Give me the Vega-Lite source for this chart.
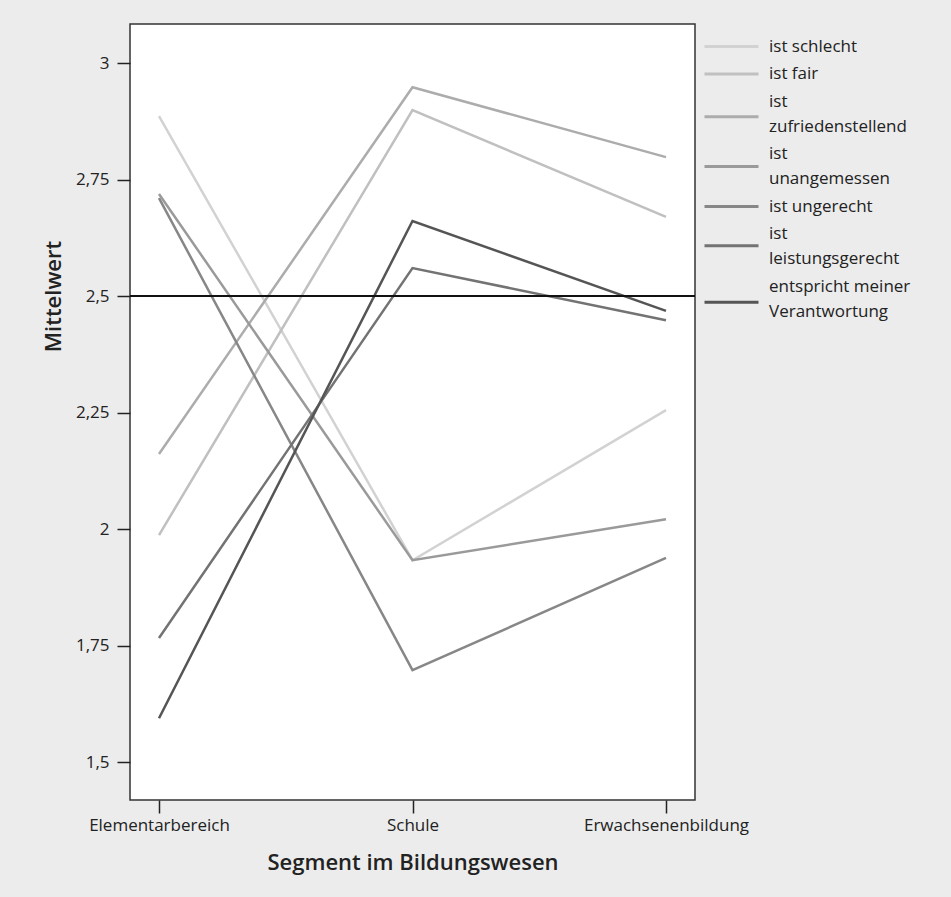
{
  "$schema": "https://vega.github.io/schema/vega-lite/v6.json",
  "width": 565,
  "height": 776,
  "autosize": {"type": "none"},
  "padding": {"left": 130, "top": 24, "right": 256, "bottom": 97},
  "background": "#ececec",
  "config": {
    "font": "Open Sans",
    "view": {"fill": "white", "stroke": "#333333", "strokeWidth": 1.5},
    "style": {"guide-label": {"lineHeight": 25}},
    "axis": {
      "labelFont": "Open Sans",
      "labelFontSize": 17,
      "labelColor": "#222222",
      "titleFont": "Open Sans",
      "titleFontSize": 22,
      "titleFontWeight": 600,
      "titleColor": "#222222",
      "tickColor": "#222222",
      "tickWidth": 1.5,
      "tickSize": 13,
      "domainColor": "#333333",
      "domainWidth": 1.5,
      "grid": false
    },
    "legend": {
      "labelFont": "Open Sans",
      "labelFontSize": 17,
      "labelColor": "#222222",
      "title": null,
      "orient": "right",
      "offset": 14,
      "padding": 12,
      "symbolSize": 324,
      "symbolStrokeWidth": 3,
      "symbolOpacity": 1,
      "symbolFillColor": "transparent",
      "labelOffset": 27,
      "labelLimit": 200,
      "rowPadding": 8.5
    }
  },
  "data": {
    "values": [
      {"series": "ist schlecht", "segment": "Elementarbereich", "value": 2.886},
      {"series": "ist schlecht", "segment": "Schule", "value": 1.933},
      {"series": "ist schlecht", "segment": "Erwachsenenbildung", "value": 2.255},
      {"series": "ist fair", "segment": "Elementarbereich", "value": 1.987},
      {"series": "ist fair", "segment": "Schule", "value": 2.899},
      {"series": "ist fair", "segment": "Erwachsenenbildung", "value": 2.670},
      {"series": "ist zufriedenstellend", "segment": "Elementarbereich", "value": 2.161},
      {"series": "ist zufriedenstellend", "segment": "Schule", "value": 2.948},
      {"series": "ist zufriedenstellend", "segment": "Erwachsenenbildung", "value": 2.798},
      {"series": "ist unangemessen", "segment": "Elementarbereich", "value": 2.719},
      {"series": "ist unangemessen", "segment": "Schule", "value": 1.933},
      {"series": "ist unangemessen", "segment": "Erwachsenenbildung", "value": 2.021},
      {"series": "ist ungerecht", "segment": "Elementarbereich", "value": 2.710},
      {"series": "ist ungerecht", "segment": "Schule", "value": 1.697},
      {"series": "ist ungerecht", "segment": "Erwachsenenbildung", "value": 1.938},
      {"series": "ist leistungsgerecht", "segment": "Elementarbereich", "value": 1.766},
      {"series": "ist leistungsgerecht", "segment": "Schule", "value": 2.560},
      {"series": "ist leistungsgerecht", "segment": "Erwachsenenbildung", "value": 2.448},
      {"series": "entspricht meiner Verantwortung", "segment": "Elementarbereich", "value": 1.594},
      {"series": "entspricht meiner Verantwortung", "segment": "Schule", "value": 2.661},
      {"series": "entspricht meiner Verantwortung", "segment": "Erwachsenenbildung", "value": 2.468}
    ]
  },
  "encoding": {
    "x": {
      "field": "segment",
      "type": "ordinal",
      "sort": ["Elementarbereich", "Schule", "Erwachsenenbildung"],
      "scale": {"type": "point", "padding": 0.1144},
      "axis": {
        "title": "Segment im Bildungswesen",
        "labelAngle": 0,
        "labelPadding": 4,
        "titleY": 62,
        "titleBaseline": "middle",
        "domain": false
      }
    },
    "y": {
      "field": "value",
      "type": "quantitative",
      "scale": {"domain": [1.4185, 3.0837], "nice": false, "zero": false},
      "axis": {
        "title": "Mittelwert",
        "values": [1.5, 1.75, 2, 2.25, 2.5, 2.75, 3],
        "labelExpr": "replace(format(datum.value, ''), '.', ',')",
        "labelPadding": 8,
        "titleX": -77,
        "titleY": 272,
        "titleBaseline": "middle",
        "titleAlign": "center",
        "domain": false
      }
    }
  },
  "layer": [
    {
      "mark": {"type": "line", "strokeWidth": 2.5},
      "encoding": {
        "color": {
          "field": "series",
          "type": "nominal",
          "scale": {
            "domain": ["ist schlecht", "ist fair", "ist zufriedenstellend", "ist unangemessen", "ist ungerecht", "ist leistungsgerecht", "entspricht meiner Verantwortung"],
            "range": ["#d2d2d2", "#c0c0c0", "#acacac", "#9a9a9a", "#878787", "#737373", "#555555"]
          },
          "legend": {
            "labelExpr": "datum.label == 'ist zufriedenstellend' ? ['ist', 'zufriedenstellend'] : datum.label == 'ist unangemessen' ? ['ist', 'unangemessen'] : datum.label == 'ist leistungsgerecht' ? ['ist', 'leistungsgerecht'] : datum.label == 'entspricht meiner Verantwortung' ? ['entspricht meiner', 'Verantwortung'] : datum.label"
          }
        }
      }
    },
    {
      "mark": {"type": "point", "filled": false, "opacity": 0, "size": 324, "strokeWidth": 3},
      "encoding": {
        "color": {
          "field": "series",
          "type": "nominal"
        },
        "shape": {
          "field": "series",
          "type": "nominal",
          "scale": {
            "domain": ["ist schlecht", "ist fair", "ist zufriedenstellend", "ist unangemessen", "ist ungerecht", "ist leistungsgerecht", "entspricht meiner Verantwortung"],
            "range": ["M-3,0L3,0", "M-3,0L3,0", "M-3,1.7L3,1.7", "M-3,1.4L3,1.4", "M-3,0L3,0", "M-3,1.3L3,1.3", "M-3,1.75L3,1.75"]
          },
          "legend": {
            "labelExpr": "datum.label == 'ist zufriedenstellend' ? ['ist', 'zufriedenstellend'] : datum.label == 'ist unangemessen' ? ['ist', 'unangemessen'] : datum.label == 'ist leistungsgerecht' ? ['ist', 'leistungsgerecht'] : datum.label == 'entspricht meiner Verantwortung' ? ['entspricht meiner', 'Verantwortung'] : datum.label"
          }
        }
      }
    },
    {
      "mark": {"type": "rule", "color": "#111111", "strokeWidth": 2},
      "encoding": {"y": {"datum": 2.5}, "x": null}
    }
  ]
}
